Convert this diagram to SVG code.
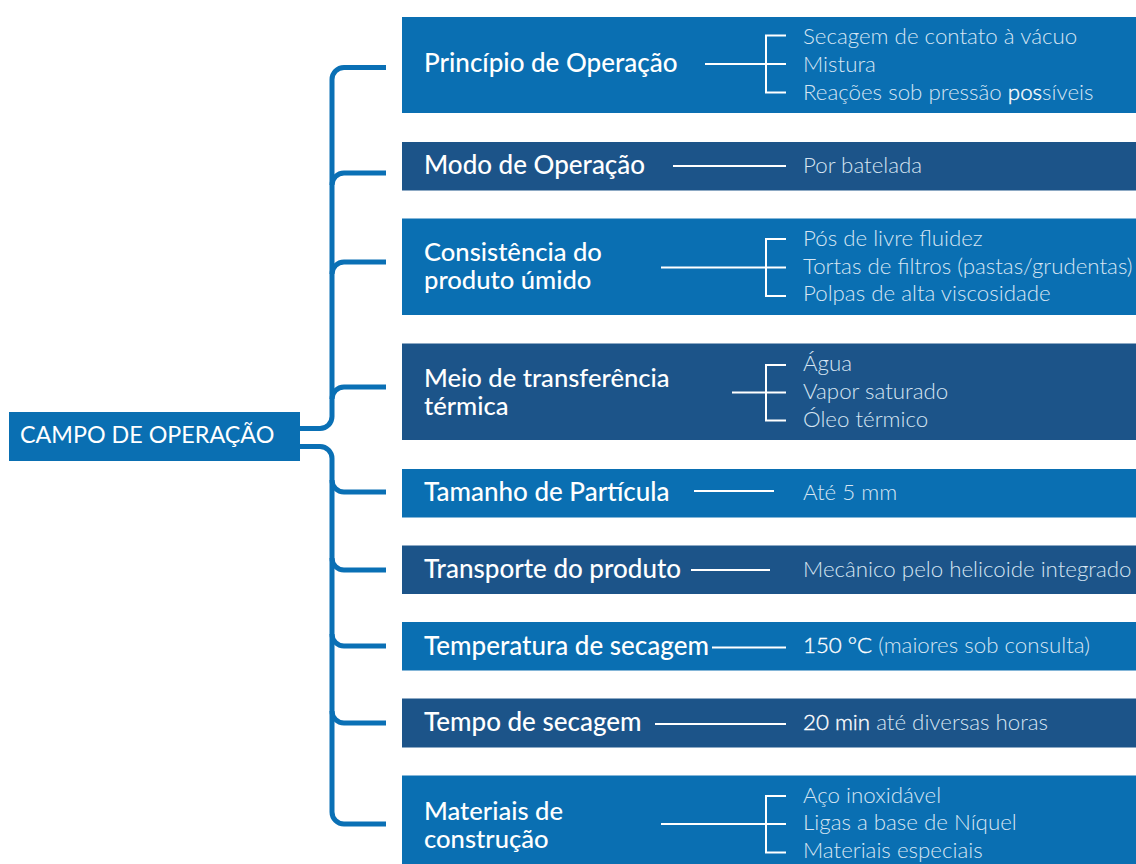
<svg xmlns="http://www.w3.org/2000/svg" width="1136" height="864" viewBox="0 0 1136 864">
<style>
.bl{fill:#0a6fb2}
.bd{fill:#1c5489}
.t{font-family:Lato,"Liberation Sans",sans-serif;font-size:26px;font-weight:500;fill:#ffffff}
.t2{font-size:25.6px}
.s{font-family:Lato,"Liberation Sans",sans-serif;font-size:22.3px;font-weight:300;fill:#d6e5f2}
.b{fill:#ffffff;stroke:#ffffff;stroke-width:0.35}
.root{font-family:Lato,"Liberation Sans",sans-serif;font-size:23.3px;font-weight:400;fill:#ffffff}
.w{fill:none;stroke:#ffffff;stroke-width:2}
.c{fill:none;stroke:#0a70b5;stroke-width:5}
</style>
<rect width="1136" height="864" fill="#ffffff"/>
<g id="connectors">
<path class="c" d="M300,428.5 H320 A12,12 0 0 0 332,416.5 V79.5 A12,12 0 0 1 344,67.5 H386"/>
<path class="c" d="M332,185 A12,12 0 0 1 344,173 H386"/>
<path class="c" d="M332,274 A12,12 0 0 1 344,262 H386"/>
<path class="c" d="M332,399 A12,12 0 0 1 344,387 H386"/>
<path class="c" d="M300,446.5 H320 A12,12 0 0 1 332,458.5 V812 A12,12 0 0 0 344,824 H386"/>
<path class="c" d="M332,480 A12,12 0 0 0 344,492 H386"/>
<path class="c" d="M332,558 A12,12 0 0 0 344,570 H386"/>
<path class="c" d="M332,634 A12,12 0 0 0 344,646 H386"/>
<path class="c" d="M332,711 A12,12 0 0 0 344,723 H386"/>
</g>
<g id="root">
<rect class="bl" x="9" y="412" width="291" height="49"/>
<text class="root" x="20" y="443">CAMPO DE OPERAÇÃO</text>
</g>
<g id="principio">
<rect class="bl" x="402" y="17" width="734" height="96"/>
<text class="t" x="424" y="72">Princípio de Operação</text>
<path class="w" d="M705,64 H766 M786,35.5 H766 V92.5 H786 M766,64 H786"/>
<text class="s" x="803" y="44">Secagem de contato à vácuo</text>
<text class="s" x="803" y="71.5">Mistura</text>
<text class="s" x="803" y="99.5">Reações sob pressão <tspan class="b">pos</tspan>síveis</text>
</g>
<g id="modo">
<rect class="bd" x="402" y="142" width="734" height="48.5"/>
<text class="t" x="424" y="173.5">Modo de Operação</text>
<path class="w" d="M673,166 H786"/>
<text class="s" x="803" y="172.5">Por batelada</text>
</g>
<g id="consistencia">
<rect class="bl" x="402" y="218.5" width="734" height="96.5"/>
<text class="t t2" x="424" y="261">Consistência do</text>
<text class="t t2" x="424" y="289">produto úmido</text>
<path class="w" d="M661,267.5 H766 M786,239 H766 V296 H786 M766,267.5 H786"/>
<text class="s" x="803" y="246">Pós de livre fluidez</text>
<text class="s" x="803" y="273.5">Tortas de filtros (pastas/grudentas)</text>
<text class="s" x="803" y="301">Polpas de alta viscosidade</text>
</g>
<g id="meio">
<rect class="bd" x="402" y="343.5" width="734" height="96.5"/>
<text class="t t2" x="424" y="386.5">Meio de transferência</text>
<text class="t t2" x="424" y="414.5">térmica</text>
<path class="w" d="M732,392.5 H766 M786,365 H766 V420.5 H786 M766,392.5 H786"/>
<text class="s" x="803" y="371">Água</text>
<text class="s" x="803" y="398.5">Vapor saturado</text>
<text class="s" x="803" y="426.5">Óleo térmico</text>
</g>
<g id="tamanho">
<rect class="bl" x="402" y="469" width="734" height="48.5"/>
<text class="t" x="424" y="501">Tamanho de Partícula</text>
<path class="w" d="M694,491 H774"/>
<text class="s" x="803" y="499.5">Até 5 mm</text>
</g>
<g id="transporte">
<rect class="bd" x="402" y="545.5" width="734" height="48.5"/>
<text class="t" x="424" y="578">Transporte do produto</text>
<path class="w" d="M691,570 H770"/>
<text class="s" x="803" y="577">Mecânico pelo helicoide integrado</text>
</g>
<g id="temperatura">
<rect class="bl" x="402" y="622" width="734" height="48.5"/>
<text class="t" x="424" y="654.5">Temperatura de secagem</text>
<path class="w" d="M712,647.5 H786"/>
<text class="s" x="803" y="652.5"><tspan class="b">150 °C</tspan> (maiores sob consulta)</text>
</g>
<g id="tempo">
<rect class="bd" x="402" y="698.5" width="734" height="49"/>
<text class="t" x="424" y="731">Tempo de secagem</text>
<path class="w" d="M655,724 H786"/>
<text class="s" x="803" y="729.5"><tspan class="b">20 min</tspan> até diversas horas</text>
</g>
<g id="materiais">
<rect class="bl" x="402" y="775.5" width="734" height="96"/>
<text class="t t2" x="424" y="820">Materiais de</text>
<text class="t t2" x="424" y="847.5">construção</text>
<path class="w" d="M661,824 H766 M786,796 H766 V852.5 H786 M766,824 H786"/>
<text class="s" x="803" y="802.5">Aço inoxidável</text>
<text class="s" x="803" y="830">Ligas a base de Níquel</text>
<text class="s" x="803" y="858">Materiais especiais</text>
</g>
</svg>
